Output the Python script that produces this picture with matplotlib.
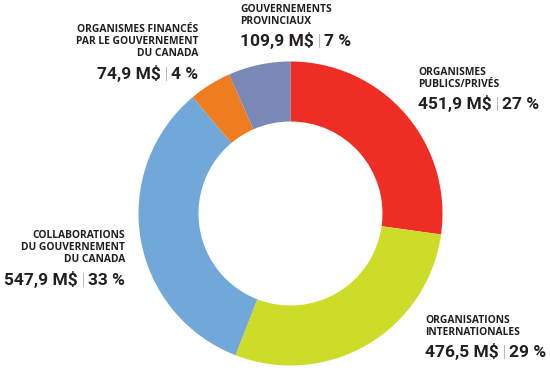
import matplotlib
matplotlib.use("Agg")
import matplotlib.pyplot as plt

# ---- data (clockwise from 12 o'clock) ----
labels = ["ORGANISMES\nPUBLICS/PRIVÉS",
          "ORGANISATIONS\nINTERNATIONALES",
          "COLLABORATIONS\nDU GOUVERNEMENT\nDU CANADA",
          "ORGANISMES FINANCÉS\nPAR LE GOUVERNEMENT\nDU CANADA",
          "GOUVERNEMENTS\nPROVINCIAUX"]
amounts = [451.9, 476.5, 547.9, 74.9, 109.9]
amount_txt = ["451,9 M$", "476,5 M$", "547,9 M$", "74,9 M$", "109,9 M$"]
pct_txt = ["27 %", "29 %", "33 %", "4 %", "7 %"]
colors = ["#EE2D24", "#CDDC29", "#72A7D9", "#EE7D1F", "#7A88B7"]

# label anchor: x edge, centre of first line (pixels from top), alignment
label_pos = [(418, 71, "left"), (425, 319, "left"), (125, 234, "right"),
             (198, 28, "right"), (240, 8, "left")]

W, H = 550, 370
LAB_FONT = "Open Sans"
NUM_FONT = "Roboto"
INK = "#231F20"
LAB_SIZE = 7.4
NUM_SIZE = 12.5
LINE_H = 12.3
NUM_GAP = 20

fig = plt.figure(figsize=(W / 100, H / 100), dpi=100)
ax = fig.add_axes([0, 0, 1, 1])

ax.pie(amounts, colors=colors, startangle=90, counterclock=False,
       center=(290.5, H - 213.5), radius=152,
       wedgeprops=dict(width=60, linewidth=0))
ax.set_xlim(0, W)
ax.set_ylim(0, H)
ax.set_aspect("equal")
ax.axis("off")

renderer = fig.canvas.get_renderer()
lab_cap = LAB_SIZE * 100 / 72 * 0.714
num_cap = NUM_SIZE * 100 / 72 * 0.711


def value_line(x, yc, ha, amt, pct):
    base = H - (yc + num_cap / 2)
    big = dict(fontsize=NUM_SIZE, fontweight="bold", family=NUM_FONT, color=INK)
    bar = dict(fontsize=NUM_SIZE, fontweight="light", family=NUM_FONT, color="#666666")
    pieces = [(amt, big, 4), ("|", bar, 3), (pct, big, 0)]
    arts, widths = [], []
    for s, props, gap in pieces:
        t = ax.text(0, base, s, va="baseline", ha="left", **props)
        w = t.get_window_extent(renderer).width
        arts.append(t)
        widths.append(w + gap)
    total = sum(widths)
    cur = x if ha == "left" else x - total
    for t, w in zip(arts, widths):
        t.set_x(cur)
        cur += w


for lab, amt, pct, (x, y, ha) in zip(labels, amount_txt, pct_txt, label_pos):
    lines = lab.split("\n")
    for i, line in enumerate(lines):
        ax.text(x, H - (y + i * LINE_H + lab_cap / 2), line, ha=ha, va="baseline",
                fontsize=LAB_SIZE, fontweight="bold", family=LAB_FONT, color=INK)
    value_line(x, y + (len(lines) - 1) * LINE_H + NUM_GAP, ha, amt, pct)

fig.savefig("out.png", dpi=100)
